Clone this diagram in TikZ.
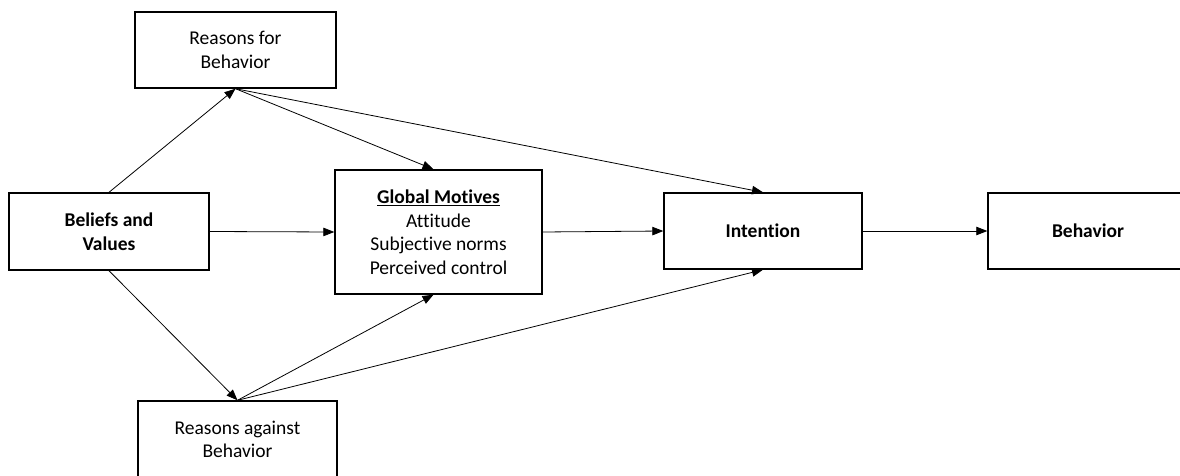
\documentclass[tikz,border=0pt]{standalone}
\usepackage{fontspec}
\setmainfont[Ligatures=NoCommon]{Carlito}
\usetikzlibrary{arrows.meta}
\tikzset{
  box/.style={draw, line width=1.4pt, align=center, inner sep=2pt,
    font=\fontsize{19.5}{23.5}\selectfont},
  conn/.style={line width=0.8pt, -{Triangle[length=11pt,width=8.5pt]}},
}
\begin{document}
\begin{tikzpicture}[x=1pt,y=-1pt]
\useasboundingbox (0,0) rectangle (1180,476);
\clip (0,0) rectangle (1180,476);
\node[box, minimum width=201pt, minimum height=76pt] (rf) at (235.5,50) {Reasons for\\Behavior};
\node[box, minimum width=200pt, minimum height=77pt] (bv) at (109,231.5) {\textbf{Beliefs and}\\\textbf{Values}};
\node[box, minimum width=207pt, minimum height=124pt] (gm) at (438.5,232) {\textbf{\underline{Global Motives}}\\Attitude\\Subjective norms\\Perceived control};
\node[box, minimum width=198pt, minimum height=76pt] (in) at (763,231) {\textbf{Intention}};
\node[box, minimum width=200pt, minimum height=76pt] (bh) at (1088,231) {\textbf{Behavior}};
\node[box, minimum width=199pt, minimum height=77pt] (ra) at (237.5,439.5) {Reasons against\\Behavior};
\draw[conn] (bv.north) -- (rf.south);
\draw[conn] (bv.south) -- (ra.north);
\draw[conn] (rf.south) -- ([xshift=-5pt]gm.north);
\draw[conn] (rf.south) -- (in.north);
\draw[conn] (ra.north) -- ([xshift=-5pt]gm.south);
\draw[conn] (ra.north) -- (in.south);
\draw[conn] (bv.east) -- (gm.west);
\draw[conn] (gm.east) -- (in.west);
\draw[conn] (in.east) -- (bh.west);
\end{tikzpicture}
\end{document}
